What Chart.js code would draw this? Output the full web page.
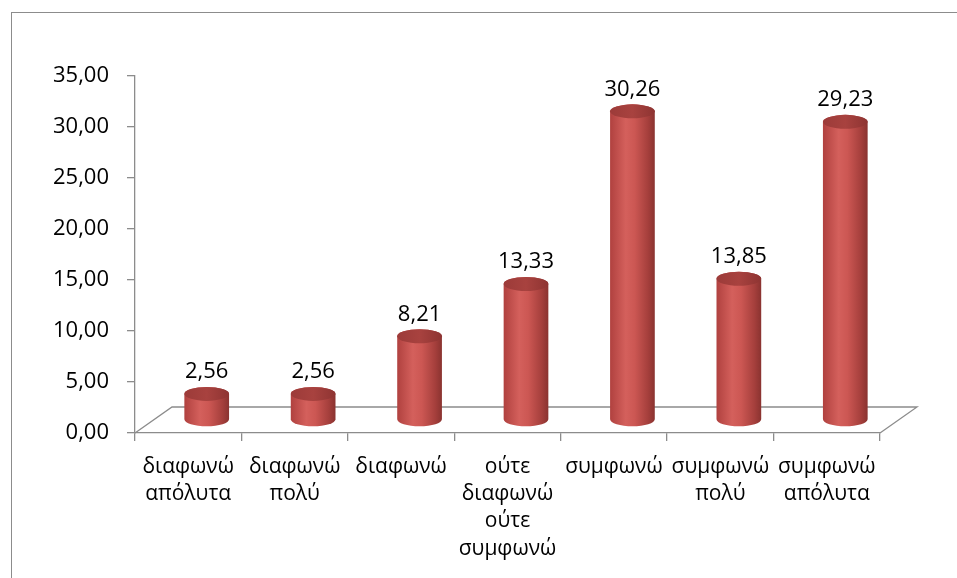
<!DOCTYPE html>
<html>
<head>
<meta charset="utf-8">
<script src="https://cdn.jsdelivr.net/npm/chart.js@4.4.1/dist/chart.umd.min.js"></script>
<style>
  html, body { margin: 0; padding: 0; background: #fff; overflow: hidden; }
  canvas { display: block; }
</style>
</head>
<body>
<canvas id="chart" width="957" height="578"></canvas>
<script>
const categories = [
  ['διαφωνώ', 'απόλυτα'],
  ['διαφωνώ', 'πολύ'],
  ['διαφωνώ'],
  ['ούτε', 'διαφωνώ', 'ούτε', 'συμφωνώ'],
  ['συμφωνώ'],
  ['συμφωνώ', 'πολύ'],
  ['συμφωνώ', 'απόλυτα']
];
const values = [2.56, 2.56, 8.21, 13.33, 30.26, 13.85, 29.23];
const yTicks = [0, 5, 10, 15, 20, 25, 30, 35];

// depth of the 3D floor (back edge offset from front edge)
const DEPTH_X = 37;
const DEPTH_Y = -26;
const AXIS_GREY = '#8c8c8c';
const FONT_SIZE = 22;

const fmt = v => v.toFixed(2).replace('.', ',');

const cylinders = {
  id: 'cylinders',
  beforeDraw(chart) {
    const ctx = chart.ctx;
    ctx.save();
    ctx.fillStyle = '#fff';
    ctx.fillRect(0, 0, chart.width, chart.height);
    ctx.strokeStyle = AXIS_GREY;
    ctx.lineWidth = 1;
    ctx.strokeRect(11.5, 12.5, chart.width + 20, chart.height + 20);
    ctx.restore();
  },
  beforeDatasetsDraw(chart) {
    const ctx = chart.ctx;
    const { left, right, bottom } = chart.chartArea;
    ctx.save();
    ctx.strokeStyle = AXIS_GREY;
    ctx.lineWidth = 1.3;
    ctx.beginPath();
    ctx.moveTo(left, bottom);
    ctx.lineTo(left + DEPTH_X, bottom + DEPTH_Y);
    ctx.lineTo(right + DEPTH_X, bottom + DEPTH_Y);
    ctx.lineTo(right, bottom);
    ctx.stroke();
    ctx.restore();
  },
  beforeDatasetDraw() {
    return false;
  },
  afterDatasetsDraw(chart) {
    const ctx = chart.ctx;
    const meta = chart.getDatasetMeta(0);
    const dx = DEPTH_X / 2, dy = DEPTH_Y / 2;
    ctx.save();
    meta.data.forEach((bar, i) => {
      const p = bar.getProps(['x', 'y', 'base', 'width'], true);
      const cx = p.x + dx;
      const yTop = p.y + dy;
      const yBase = p.base + dy;
      const w = p.width / 2;
      const ry = 7;

      const g = ctx.createLinearGradient(cx - w, 0, cx + w, 0);
      g.addColorStop(0, '#b0413f');
      g.addColorStop(0.35, '#d4605c');
      g.addColorStop(0.55, '#cc5753');
      g.addColorStop(0.85, '#a53f3c');
      g.addColorStop(1, '#8a3330');

      ctx.beginPath();
      ctx.moveTo(cx - w, yTop);
      ctx.lineTo(cx - w, yBase);
      ctx.ellipse(cx, yBase, w, ry, 0, Math.PI, 0, true);
      ctx.lineTo(cx + w, yTop);
      ctx.ellipse(cx, yTop, w, ry, 0, 0, Math.PI, true);
      ctx.closePath();
      ctx.fillStyle = g;
      ctx.fill();

      const gt = ctx.createLinearGradient(cx - w, 0, cx + w, 0);
      gt.addColorStop(0, '#9c3b39');
      gt.addColorStop(0.5, '#a8423f');
      gt.addColorStop(1, '#8e3432');
      ctx.beginPath();
      ctx.ellipse(cx, yTop, w, ry, 0, 0, Math.PI * 2);
      ctx.fillStyle = gt;
      ctx.fill();

      ctx.fillStyle = '#000';
      ctx.font = FONT_SIZE + 'px "Open Sans"';
      ctx.textAlign = 'center';
      ctx.textBaseline = 'middle';
      ctx.fillText(fmt(values[i]), cx, yTop - 22);
    });
    ctx.restore();
  }
};

new Chart(document.getElementById('chart'), {
  type: 'bar',
  data: {
    labels: categories,
    datasets: [{
      data: values,
      backgroundColor: '#c0504d',
      categoryPercentage: 1,
      barPercentage: 0.42
    }]
  },
  options: {
    responsive: false,
    animation: false,
    layout: { padding: { top: 76, right: 77, bottom: 0, left: 0 } },
    plugins: {
      legend: { display: false },
      tooltip: { enabled: false }
    },
    scales: {
      y: {
        min: 0,
        max: 35,
        afterBuildTicks: scale => { scale.ticks = yTicks.map(v => ({ value: v })); },
        afterFit: scale => { scale.width = 135; },
        border: { display: true, color: AXIS_GREY, width: 1.3 },
        grid: { drawOnChartArea: false, drawTicks: true, tickLength: 8, color: AXIS_GREY, lineWidth: 1.3 },
        ticks: {
          padding: 18,
          color: '#000',
          font: { family: 'Open Sans', size: FONT_SIZE },
          callback: v => fmt(v)
        }
      },
      x: {
        afterFit: scale => { scale.height = 145; },
        border: { display: true, color: AXIS_GREY, width: 1.3 },
        grid: { offset: true, drawOnChartArea: false, drawTicks: true, tickLength: 8, color: AXIS_GREY, lineWidth: 1.3 },
        ticks: {
          padding: 12,
          color: '#000',
          maxRotation: 0,
          autoSkip: false,
          font: { family: 'Open Sans', size: 21, lineHeight: 1.3 }
        }
      }
    }
  },
  plugins: [cylinders]
});
</script>
</body>
</html>
